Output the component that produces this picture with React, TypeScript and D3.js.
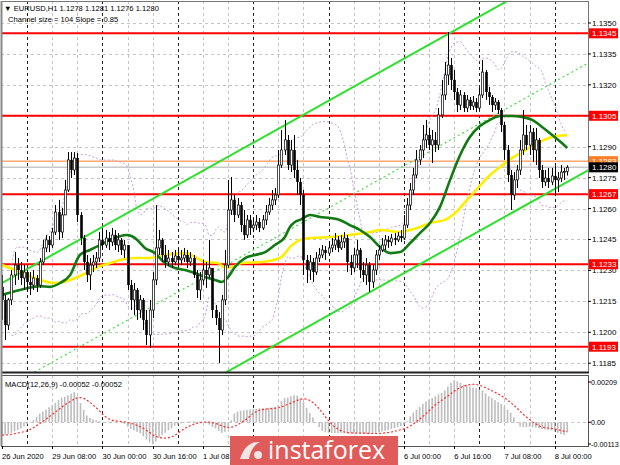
import React from "react";
import * as d3 from "d3";

const firstOpen = 1.1222;
const closes = [
  1.12157, 1.12035, 1.12157, 1.12278, 1.12326, 1.12302, 1.12263, 1.12292, 1.12244, 1.12229,
  1.12263, 1.12229, 1.12341, 1.12409, 1.12448, 1.12423, 1.12486, 1.12583, 1.12486, 1.12569,
  1.1269, 1.12836, 1.12787, 1.12845, 1.12569, 1.12457, 1.12341, 1.12278, 1.12326, 1.12341,
  1.1236, 1.12448, 1.12423, 1.12457, 1.12438, 1.12472, 1.12423, 1.12448, 1.12399, 1.12423,
  1.12229, 1.12157, 1.12205, 1.12108, 1.12157, 1.1206, 1.11987, 1.12108, 1.12254, 1.12409,
  1.12448, 1.12375, 1.12341, 1.1236, 1.12341, 1.1237, 1.12351, 1.1236, 1.12375, 1.12341,
  1.1236, 1.12278, 1.12205, 1.12254, 1.12302, 1.12278, 1.12312, 1.12108, 1.12069, 1.12011,
  1.12157, 1.12326, 1.12593, 1.12642, 1.12569, 1.12617, 1.1252, 1.12472, 1.12545, 1.12506,
  1.1252, 1.12535, 1.12506, 1.12545, 1.12583, 1.12617, 1.12642, 1.12666, 1.12811, 1.12884,
  1.12933, 1.12811, 1.12884, 1.12787, 1.12729, 1.12666, 1.12351, 1.12302, 1.12341, 1.12292,
  1.1236, 1.12375, 1.12399, 1.12384, 1.12409, 1.12423, 1.12448, 1.12409, 1.12438, 1.12457,
  1.12341, 1.12312, 1.12375, 1.12399, 1.12302, 1.12278, 1.12326, 1.12244, 1.12302, 1.12375,
  1.12399, 1.12423, 1.12448, 1.12438, 1.12457, 1.12448, 1.12467, 1.12457, 1.1252, 1.12617,
  1.1269, 1.12763, 1.12836, 1.12884, 1.12933, 1.12957, 1.12908, 1.12933, 1.12908, 1.13054,
  1.13151, 1.13248, 1.13296, 1.13224, 1.13165, 1.13102, 1.13151, 1.13088, 1.13127, 1.13097,
  1.13117, 1.13088, 1.13151, 1.13262, 1.13165, 1.13141, 1.13102, 1.13117, 1.13078, 1.13005,
  1.12884, 1.12763, 1.12666, 1.12739, 1.12787, 1.12884, 1.12957, 1.12908, 1.12971, 1.12884,
  1.12933, 1.12787, 1.12729, 1.12748, 1.12729, 1.12758, 1.12739, 1.12748, 1.12777, 1.1278,
  1.128,
];
const highs = [
  1.12278, 1.12181, 1.12166, 1.12302, 1.12389, 1.1236, 1.12341, 1.12326, 1.12302, 1.12292,
  1.12302, 1.12278, 1.1236, 1.12448, 1.12472, 1.12467, 1.12506, 1.12617, 1.12642, 1.12603,
  1.12739, 1.12874, 1.12874, 1.12874, 1.12869, 1.12583, 1.12472, 1.12375, 1.1236, 1.12375,
  1.12389, 1.12486, 1.12506, 1.12496, 1.12486, 1.12506, 1.12496, 1.12481, 1.12457, 1.12448,
  1.12423, 1.12254, 1.12239, 1.12215, 1.12181, 1.12166, 1.12108, 1.12157, 1.12292, 1.12617,
  1.12496, 1.12457, 1.12423, 1.12399, 1.12389, 1.12399, 1.12409, 1.12399, 1.12409, 1.12399,
  1.12389, 1.12375, 1.12302, 1.12292, 1.12351, 1.12341, 1.12448, 1.12312, 1.12132, 1.12098,
  1.12181, 1.12399, 1.12739, 1.12753, 1.12666, 1.12651, 1.12632, 1.12593, 1.12569, 1.12569,
  1.12554, 1.12569, 1.12554, 1.12569, 1.12617, 1.12651, 1.1269, 1.127, 1.12884, 1.12981,
  1.1303, 1.12957, 1.12933, 1.12957, 1.12836, 1.12748, 1.1269, 1.12375, 1.12375, 1.1236,
  1.12389, 1.12409, 1.12423, 1.12418, 1.12438, 1.12457, 1.12481, 1.12467, 1.12472, 1.12486,
  1.12472, 1.12375, 1.12409, 1.12448, 1.12409, 1.12341, 1.1236, 1.12341, 1.12326, 1.12399,
  1.12423, 1.12457, 1.12472, 1.12467, 1.12477, 1.12481, 1.12486, 1.12496, 1.12569, 1.12651,
  1.12724, 1.12797, 1.12884, 1.12908, 1.13005, 1.1303, 1.12991, 1.12981, 1.12971, 1.13088,
  1.13224, 1.13311, 1.13456, 1.1333, 1.13272, 1.13185, 1.13175, 1.13165, 1.13151, 1.13141,
  1.13146, 1.13136, 1.13185, 1.13321, 1.13272, 1.1319, 1.13151, 1.13136, 1.13127, 1.13088,
  1.1302, 1.12908, 1.12787, 1.12777, 1.12811, 1.12933, 1.13078, 1.13005, 1.13005, 1.12991,
  1.12991, 1.12942, 1.12811, 1.12787, 1.12797, 1.12797, 1.12806, 1.12777, 1.12811, 1.12797,
  1.1281,
];
const lows = [
  1.1206, 1.11963, 1.12011, 1.12132, 1.12229, 1.12254, 1.12229, 1.12205, 1.12195, 1.12181,
  1.12205, 1.12195, 1.12215, 1.12326, 1.12389, 1.12389, 1.12409, 1.12472, 1.12448, 1.12457,
  1.12569, 1.1268, 1.12748, 1.12763, 1.12535, 1.12423, 1.12302, 1.12244, 1.12205, 1.12292,
  1.12312, 1.12341, 1.12399, 1.12409, 1.12399, 1.12418, 1.12399, 1.12389, 1.12375, 1.1236,
  1.12205, 1.12108, 1.12084, 1.1206, 1.12069, 1.12011, 1.11938, 1.11924, 1.12069, 1.12229,
  1.12375, 1.12341, 1.12312, 1.12321, 1.12312, 1.12326, 1.12321, 1.12326, 1.12341, 1.12312,
  1.12321, 1.12263, 1.12166, 1.12157, 1.12229, 1.12215, 1.12263, 1.12069, 1.12035, 1.11851,
  1.11987, 1.12132, 1.12312, 1.12569, 1.12535, 1.12554, 1.12486, 1.12448, 1.12457, 1.12472,
  1.12486, 1.12496, 1.12486, 1.12496, 1.1252, 1.12569, 1.12593, 1.12617, 1.12651, 1.12797,
  1.1286, 1.12787, 1.12777, 1.12748, 1.12666, 1.12617, 1.12278, 1.12239, 1.12254, 1.12244,
  1.12278, 1.12341, 1.1236, 1.12351, 1.1237, 1.12389, 1.12399, 1.12389, 1.12399, 1.12409,
  1.12292, 1.12278, 1.12292, 1.12312, 1.12263, 1.12244, 1.12229, 1.12195, 1.12215, 1.12278,
  1.12351, 1.12389, 1.12399, 1.12409, 1.12418, 1.12423, 1.12438, 1.12438, 1.12448, 1.12506,
  1.12593, 1.12666, 1.12748, 1.12811, 1.12845, 1.12894, 1.12884, 1.12821, 1.12874, 1.12884,
  1.13039, 1.13127, 1.13199, 1.13175, 1.13127, 1.13068, 1.13078, 1.13068, 1.13068, 1.13078,
  1.13078, 1.13068, 1.13078, 1.13136, 1.13127, 1.13102, 1.13068, 1.13078, 1.13059, 1.12971,
  1.12836, 1.12729, 1.12593, 1.12642, 1.127, 1.12763, 1.1286, 1.12884, 1.1286, 1.12826,
  1.12811, 1.12748, 1.127, 1.12709, 1.127, 1.12714, 1.12661, 1.1268, 1.12729, 1.12739,
  1.1276,
];

// MACD(12,26,9) main line, drawn as histogram
const macdHist = [
  -0.00067, -0.00066, -0.00062, -0.00055, -0.00048, -0.0004, -0.00032, -0.00022, -0.0001, 0.00002,
  0.00012, 0.00028, 0.00045, 0.00055, 0.00065, 0.00078, 0.00088, 0.001, 0.00115, 0.00128,
  0.00132, 0.0014, 0.00148, 0.00156, 0.0013, 0.00099, 0.00065, 0.00035, 0.00022, 0.00015,
  0.0001, 0.00006, 0.00002, 0.00002, 0.00004, 0.00005, 0.00003, 0.00002, 0.0, -0.00008,
  -0.00022, -0.00035, -0.00042, -0.0005, -0.00057, -0.00072, -0.0009, -0.00105, -0.00114, -0.001,
  -0.0008, -0.00065, -0.00055, -0.00042, -0.00032, -0.00018, -0.00012, -0.00006, 0.0, 0.00003,
  0.00005, 0.00005, 0.00003, 0.00004, 0.00002, -0.00005, -0.00012, -0.00025, -0.00033, -0.00045,
  -0.00055, -0.0005, -0.00025, 0.0001, 0.00045, 0.00055, 0.0006, 0.00062, 0.00064, 0.00066,
  0.00068, 0.0007, 0.00072, 0.00073, 0.00074, 0.00075, 0.00077, 0.0008, 0.0009, 0.0011,
  0.00125, 0.00128, 0.00135, 0.0014, 0.00138, 0.00125, 0.00105, 0.00075, 0.00048, 0.00025,
  0.0, -0.00025, -0.00045, -0.00052, -0.00055, -0.00056, -0.00057, -0.00057, -0.00055, -0.00054,
  -0.00056, -0.00058, -0.00057, -0.00056, -0.00058, -0.0006, -0.0006, -0.00062, -0.0006, -0.00056,
  -0.00052, -0.00048, -0.00044, -0.0004, -0.00035, -0.0003, -0.00025, -0.0002, -0.00014, 0.00005,
  0.0003, 0.0005, 0.00065, 0.0008, 0.00095, 0.00108, 0.00118, 0.00125, 0.00135, 0.00145,
  0.00152, 0.00165, 0.00185, 0.00205, 0.00218, 0.00212, 0.00205, 0.00195, 0.0019, 0.00185,
  0.0018, 0.00176, 0.0017, 0.00165, 0.0015, 0.00135, 0.00125, 0.00115, 0.00105, 0.00095,
  0.0008, 0.00065, 0.0005, 0.00025, 0.0, -0.00022, -0.00025, -0.00026, -0.00024, -0.00026,
  -0.00028, -0.00032, -0.00036, -0.00038, -0.0004, -0.00042, -0.00048, -0.00055, -0.00062, -0.00066,
  -0.00052,
];

// moving averages: [bar, price]
const greenMA: [number, number][] = [
  [0, 1.12181], [5.7, 1.12205], [12.1, 1.12224], [15.3, 1.1222], [18.5, 1.12239], [21.7, 1.12278],
  [24.8, 1.12375], [28, 1.12399], [31.2, 1.12423], [34.4, 1.12448], [39.8, 1.12472], [42.4, 1.12457],
  [45.5, 1.12409], [48.7, 1.12384], [51.9, 1.12336], [55.1, 1.12312], [58.3, 1.12302], [61.5, 1.12287],
  [64.6, 1.12268], [67.8, 1.12254], [70, 1.12244], [72, 1.12268], [74.2, 1.12317], [77.4, 1.1236],
  [80.6, 1.12375], [83.8, 1.12389], [86.9, 1.12423], [90.1, 1.12462], [91.7, 1.12511], [93.3, 1.12535],
  [94.9, 1.12545], [98.1, 1.12569], [101.3, 1.12559], [104.5, 1.12554], [107.6, 1.12545], [110.8, 1.1252],
  [114, 1.12496], [117.2, 1.12462], [120.4, 1.12414], [123.6, 1.12384], [126.8, 1.12389], [130, 1.12433],
  [133.1, 1.12481], [136.3, 1.1253], [139.5, 1.12608], [142.7, 1.12739], [145.9, 1.1286], [149, 1.12947],
  [152.2, 1.13], [155.4, 1.1303], [158.6, 1.13049], [162.4, 1.13049], [165.6, 1.13044], [168.8, 1.1303],
  [172, 1.12996], [175.2, 1.12957], [178.3, 1.12918], [180, 1.12894],
];
const yellowMA: [number, number][] = [
  [0, 1.12326], [5.7, 1.12292], [12.1, 1.12254], [16.9, 1.12239], [21.7, 1.12254], [24.8, 1.12273],
  [28, 1.12297], [31.2, 1.12321], [34.4, 1.12336], [37.6, 1.12351], [42.4, 1.1236], [47.1, 1.1236],
  [51.9, 1.12375], [58.3, 1.12384], [61.5, 1.12365], [64.6, 1.12341], [68.8, 1.12336], [71, 1.12312],
  [73.2, 1.12317], [76.4, 1.12336], [82.8, 1.12341], [88.5, 1.1236], [92.4, 1.12423], [94.9, 1.12448],
  [98.1, 1.12457], [104.5, 1.12462], [110.8, 1.12472], [117.2, 1.12486], [120.4, 1.12496], [126.8, 1.12486],
  [130, 1.12496], [133.1, 1.12511], [136.3, 1.1253], [141.1, 1.12545], [144.3, 1.12578], [148.1, 1.12642],
  [151.6, 1.127], [154.8, 1.12753], [158.6, 1.12802], [162.4, 1.12845], [165.6, 1.12874], [168.8, 1.12903],
  [172, 1.12928], [175.2, 1.12947], [180, 1.12957],
];

const redLevels = [1.1345, 1.1305, 1.1267, 1.1233, 1.1193];
const orangeLevel = 1.1283;
const bidPrice = 1.128;
const priceTicks = [1.135, 1.1335, 1.132, 1.1305, 1.129, 1.1275, 1.126, 1.1245, 1.123, 1.1215, 1.12, 1.1185];
const macdTicks = [0.00209, 0, -0.00113];
const macdTickLabels = ["0.00209", "0.00", "-0.00113"];
const timeLabels = [
  "26 Jun 2020", "29 Jun 08:00", "30 Jun 00:00", "30 Jun 16:00", "1 Jul 08:00", "2 Jul 00:00",
  "2 Jul 16:00", "3 Jul 08:00", "6 Jul 00:00", "6 Jul 16:00", "7 Jul 08:00", "8 Jul 00:00",
];
const timeLabelBars = [0, 16, 32, 48, 64, 80, 96, 112, 128, 144, 160, 176];
const daySeparatorBars = [8, 32, 56, 80, 104, 128, 152, 176];

// equidistant channel: upper line start, slope per bar, channel size
const channelStartBar = 0;
const channelStartPrice = 1.12239;
const channelSlope = 0.000085;
const channelSize = 0.0104;

const header = "\u25BC EURUSD,H1  1.1278 1.1281 1.1276 1.1280";
const subHeader = "Channel size = 104 Slope = 0.85";
const macdHeader = "MACD(12,26,9) -0.00052 -0.00052";

const FONT = "'Liberation Sans', Arial, 'DejaVu Sans', sans-serif";

export default function App() {
  const W = 620, H = 465;
  const L = 1, R = 588, mainTop = 1, mainBottom = 372, macdTop = 375, macdBottom = 446;
  const logo = { x: 230, y: 436, w: 168, h: 29 };
  const n = closes.length;

  const x = d3.scaleLinear().domain([0, 180]).range([2, 567.2]);
  const y = d3.scaleLinear().domain([1.1185, 1.135]).range([363.2, 23]);
  const ym = d3.scaleLinear().domain([-0.00113, 0.00209]).range([444, 382]);

  const opens = closes.map((c, i) => (i === 0 ? firstOpen : closes[i - 1]));

  // Bollinger bands (20, 2) from closes
  const bbUp: [number, number][] = [];
  const bbLo: [number, number][] = [];
  for (let i = 3; i < n; i++) {
    const win = closes.slice(Math.max(0, i - 19), i + 1);
    const m = d3.mean(win) as number;
    const sd = Math.sqrt(d3.mean(win.map((v) => (v - m) * (v - m))) as number);
    bbUp.push([i, m + 2 * sd]);
    bbLo.push([i, m - 2 * sd]);
  }
  // signal = SMA(9) of MACD
  const signal: [number, number][] = macdHist.map((_, i) => {
    const win = macdHist.slice(Math.max(0, i - 8), i + 1);
    return [i, d3.mean(win) as number];
  });

  const priceLine = d3
    .line<[number, number]>()
    .x((d) => x(d[0]))
    .y((d) => y(d[1]))
    .curve(d3.curveMonotoneX);
  const macdLine = d3
    .line<[number, number]>()
    .x((d) => x(d[0]))
    .y((d) => ym(d[1]))
    .curve(d3.curveMonotoneX);

  const chan = (off: number): [number, number][] => [
    [-5, channelStartPrice - off + channelSlope * (-5 - channelStartBar)],
    [200, channelStartPrice - off + channelSlope * (200 - channelStartBar)],
  ];
  const straight = d3
    .line<[number, number]>()
    .x((d) => x(d[0]))
    .y((d) => y(d[1]));

  const gridBars = d3.range(8, 181, 8);

  // time labels that are entirely hidden behind the logo are not shown (as in the reference)
  const visibleTimeLabels = timeLabelBars
    .map((b, k) => ({ b, label: timeLabels[k] }))
    .filter((t) => x(t.b) < logo.x || x(t.b) > logo.x + logo.w);

  return (
    <svg width={W} height={H} style={{ display: "block", position: "absolute", left: 0, top: 0 }}>
      <defs>
        <clipPath id="mainClip">
          <rect x={L} y={mainTop} width={R - L} height={mainBottom - mainTop} />
        </clipPath>
        <clipPath id="macdClip">
          <rect x={L} y={macdTop} width={R - L} height={macdBottom - macdTop} />
        </clipPath>
      </defs>
      <rect x={0} y={0} width={W} height={H} fill="#fff" />

      {/* horizontal grid */}
      {priceTicks.map((p, k) => (
        <line key={"hg" + k} x1={L} x2={R} y1={Math.round(y(p)) + 0.5} y2={Math.round(y(p)) + 0.5}
          stroke="#c4c4c4" strokeDasharray="3,3" strokeWidth={1} />
      ))}
      <line x1={L} x2={R} y1={Math.round(ym(0)) + 0.5} y2={Math.round(ym(0)) + 0.5} stroke="#c4c4c4" strokeDasharray="3,3" />

      {/* vertical grid */}
      {gridBars.map((b) => {
        const isDay = daySeparatorBars.includes(b);
        const xx = Math.round(x(b)) + 0.5;
        return (
          <g key={"vg" + b}>
            <line x1={xx} x2={xx} y1={mainTop} y2={mainBottom} stroke={isDay ? "#222" : "#c4c4c4"}
              strokeDasharray="3,3" strokeWidth={1} />
            <line x1={xx} x2={xx} y1={macdTop} y2={macdBottom} stroke={isDay ? "#222" : "#c4c4c4"}
              strokeDasharray="3,3" strokeWidth={1} />
          </g>
        );
      })}

      <g clipPath="url(#mainClip)">
        {/* horizontal level lines */}
        <line x1={L} x2={R} y1={y(bidPrice)} y2={y(bidPrice)} stroke="#c8c8c8" strokeWidth={1.5} />
        <line x1={L} x2={R} y1={y(orangeLevel)} y2={y(orangeLevel)} stroke="#ff7f27" strokeWidth={1} />
        {redLevels.map((p, k) => (
          <line key={"rl" + k} x1={L} x2={R} y1={y(p)} y2={y(p)} stroke="#ff0000" strokeWidth={2} />
        ))}

        {/* Bollinger bands */}
        <path d={priceLine(bbUp) || ""} fill="none" stroke="#c99be0" strokeWidth={1} strokeDasharray="2,2" />
        <path d={priceLine(bbLo) || ""} fill="none" stroke="#c99be0" strokeWidth={1} strokeDasharray="2,2" />

        {/* channel */}
        <path d={straight(chan(0)) || ""} stroke="#2ee02e" strokeWidth={2} fill="none" />
        <path d={straight(chan(channelSize / 2)) || ""} stroke="#44dd44" strokeWidth={1.2} strokeDasharray="2,3" fill="none" />
        <path d={straight(chan(channelSize)) || ""} stroke="#2ee02e" strokeWidth={2} fill="none" />

        {/* moving averages */}
        <path d={priceLine(yellowMA) || ""} fill="none" stroke="#ffee00" strokeWidth={2.6} />
        <path d={priceLine(greenMA) || ""} fill="none" stroke="#127a12" strokeWidth={2.6} />

        {/* candles */}
        {closes.map((c, i) => {
          const o = opens[i];
          const hi = Math.max(highs[i], o, c);
          const lo = Math.min(lows[i], o, c);
          const xx = Math.round(x(i)) + 0.5;
          const top = y(Math.max(o, c));
          const h = Math.max(1, Math.abs(y(o) - y(c)));
          const bull = c >= o;
          return (
            <g key={"c" + i}>
              <line x1={xx} x2={xx} y1={y(hi)} y2={y(lo)} stroke="#000" strokeWidth={1} />
              {bull ? (
                <rect x={xx - 1.1} y={top} width={2.2} height={h} fill="#fff" stroke="#000" strokeWidth={0.7} />
              ) : (
                <rect x={xx - 1.3} y={top} width={2.6} height={h} fill="#000" />
              )}
            </g>
          );
        })}
      </g>

      {/* MACD */}
      <g clipPath="url(#macdClip)">
        {macdHist.map((v, i) => (
          <rect key={"m" + i} x={x(i) - 0.8} y={Math.min(ym(v), ym(0))} width={1.6}
            height={Math.max(0.5, Math.abs(ym(v) - ym(0)))} fill="#bdbdbd" />
        ))}
        <path d={macdLine(signal) || ""} fill="none" stroke="#ff2a2a" strokeWidth={1.2} strokeDasharray="2,2" />
      </g>

      {/* panel frames */}
      <rect x={L + 0.5} y={mainTop + 0.5} width={R - L} height={mainBottom - mainTop} fill="none" stroke="#777" strokeWidth={1} />
      <line x1={L} x2={R + 1} y1={mainBottom + 0.5} y2={mainBottom + 0.5} stroke="#222" strokeWidth={2} />
      <rect x={L + 0.5} y={macdTop + 0.5} width={R - L} height={macdBottom - macdTop} fill="none" stroke="#555" strokeWidth={1} />
      <line x1={L + 0.5} x2={L + 0.5} y1={mainTop} y2={macdBottom} stroke="#888" strokeWidth={2} />

      {/* header texts */}
      <text x={4} y={11} fontSize={7.6} fontFamily={FONT} fill="#000">{header}</text>
      <text x={8} y={22} fontSize={7.6} fontFamily={FONT} fill="#000">{subHeader}</text>
      <text x={5} y={387} fontSize={7.6} fontFamily={FONT} fill="#000">{macdHeader}</text>

      {/* right price axis */}
      {priceTicks.map((p, k) => (
        <g key={"pt" + k}>
          <line x1={R} x2={R + 3} y1={y(p)} y2={y(p)} stroke="#000" />
          <text x={592} y={y(p) + 3} fontSize={8} fontFamily={FONT} fill="#000">{p.toFixed(4)}</text>
        </g>
      ))}
      {macdTicks.map((v, k) => (
        <g key={"mt" + k}>
          <line x1={R} x2={R + 3} y1={ym(v)} y2={ym(v)} stroke="#000" />
          <text x={591} y={ym(v) + 3} fontSize={7.2} fontFamily={FONT} fill="#000">{macdTickLabels[k]}</text>
        </g>
      ))}
      {/* level label boxes */}
      <rect x={589} y={y(orangeLevel) - 5} width={29} height={10} fill="#ff7f27" />
      <text x={592} y={y(orangeLevel) + 3} fontSize={8} fontFamily={FONT} fill="#fff">{orangeLevel.toFixed(4)}</text>
      <rect x={589} y={y(bidPrice) - 5} width={29} height={10} fill="#000" />
      <text x={592} y={y(bidPrice) + 3} fontSize={8} fontFamily={FONT} fill="#fff">{bidPrice.toFixed(4)}</text>
      {redLevels.map((p, k) => (
        <g key={"rb" + k}>
          <rect x={589} y={y(p) - 5} width={29} height={10} fill="#ff0000" />
          <text x={592} y={y(p) + 3} fontSize={8} fontFamily={FONT} fill="#fff">{p.toFixed(4)}</text>
        </g>
      ))}

      {/* time axis */}
      {timeLabelBars.map((b, k) => (
        <line key={"tt" + k} x1={Math.round(x(b)) + 0.5} x2={Math.round(x(b)) + 0.5} y1={macdBottom} y2={macdBottom + 3} stroke="#000" />
      ))}
      {visibleTimeLabels.map((t, k) => (
        <text key={"tl" + k} x={x(t.b)} y={459} fontSize={7.6} fontFamily={FONT} fill="#000">{t.label}</text>
      ))}

      {/* logo */}
      <g>
        <rect x={logo.x} y={logo.y} width={logo.w} height={logo.h} fill="#e05c5a" />
        <path d="M240,459 C244,446 252,441 260,442 C254,445 250,451 249,459 Z" fill="#f4f4f4" opacity={0.9} />
        <circle cx={258} cy={455} r={4} fill="#f4f4f4" opacity={0.9} />
        <text x={268} y={459} fontSize={25} fontFamily="'Open Sans', sans-serif" fill="#fff">instaforex</text>
      </g>
    </svg>
  );
}
